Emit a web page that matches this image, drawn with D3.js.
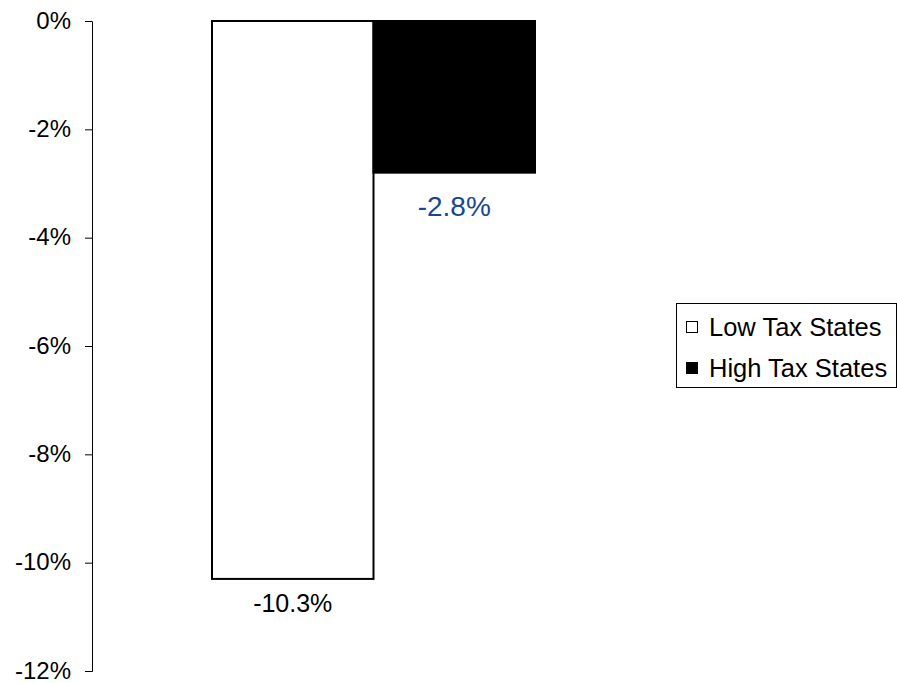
<!DOCTYPE html>
<html>
<head>
<meta charset="utf-8">
<script src="https://cdn.jsdelivr.net/npm/d3@7"></script>
<style>
  html, body { margin: 0; padding: 0; background: #fff; }
  svg { display: block; font-family: Arial, "Liberation Sans", sans-serif; }
</style>
</head>
<body>
<svg id="chart" width="897" height="683"></svg>
<script>
// Change by state tax group
const groups = ["Low Tax States", "High Tax States"];
const values = [-10.3, -2.8];
const tickValues = [0, -2, -4, -6, -8, -10, -12];

// Per-group styling
const fills = ["#ffffff", "#000000"];
const labelStyle = [
  { color: "#000000", size: 25, offset: 33 },
  { color: "#1a4590", size: 28, offset: 43 }
];

const svg = d3.select("#chart");

const y = d3.scaleLinear().domain([0, -12]).range([21, 671]);
const x = d3.scaleBand().domain(groups).range([212, 535]).paddingInner(0).paddingOuter(0);

// Value axis
const axis = d3.axisLeft(y)
  .tickValues(tickValues)
  .tickSize(7)
  .tickPadding(14)
  .tickFormat(d => d + "%");

const gAxis = svg.append("g")
  .attr("transform", "translate(92,0)")
  .call(axis);
gAxis.select(".domain").attr("stroke", "#000").attr("stroke-width", 1);
gAxis.selectAll(".tick line").attr("stroke", "#000");
gAxis.selectAll(".tick text")
  .attr("fill", "#000")
  .attr("dy", "0.3em")
  .style("font-size", "24px")
  .style("font-family", "Arial, 'Liberation Sans', sans-serif");

// Bars
svg.selectAll("rect.bar")
  .data(groups)
  .join("rect")
  .attr("class", "bar")
  .attr("x", d => x(d))
  .attr("y", y(0))
  .attr("width", x.bandwidth())
  .attr("height", (d, i) => y(values[i]) - y(0))
  .attr("fill", (d, i) => fills[i])
  .attr("stroke", "#000")
  .attr("stroke-width", 2);

// Value labels under each bar
svg.selectAll("text.val")
  .data(groups)
  .join("text")
  .attr("class", "val")
  .attr("x", d => x(d) + x.bandwidth() / 2)
  .attr("y", (d, i) => y(values[i]) + labelStyle[i].offset)
  .attr("text-anchor", "middle")
  .attr("fill", (d, i) => labelStyle[i].color)
  .style("font-size", (d, i) => labelStyle[i].size + "px")
  .text((d, i) => values[i].toFixed(1) + "%");

// Legend
const legend = svg.append("g").attr("transform", "translate(676,303)");
legend.append("rect")
  .attr("x", 0.5).attr("y", 0.5)
  .attr("width", 220).attr("height", 84)
  .attr("fill", "#fff")
  .attr("stroke", "#000")
  .attr("stroke-width", 1);

const items = legend.selectAll("g.item")
  .data(groups)
  .join("g")
  .attr("class", "item")
  .attr("transform", (d, i) => `translate(10,${24 + i * 41})`);

items.append("rect")
  .attr("x", 0.5).attr("y", -5.5)
  .attr("width", 11).attr("height", 11)
  .attr("fill", (d, i) => fills[i])
  .attr("stroke", "#000")
  .attr("stroke-width", 1);

items.append("text")
  .attr("x", 23)
  .attr("y", 0)
  .attr("dy", "0.35em")
  .attr("fill", "#000")
  .style("font-size", "25.5px")
  .text(d => d);
</script>
</body>
</html>
